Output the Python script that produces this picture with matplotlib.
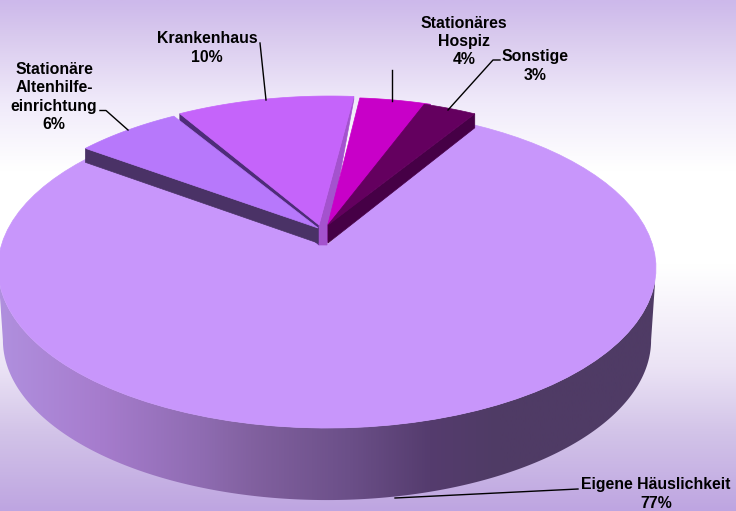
# coding: utf-8
import numpy as np
import matplotlib
matplotlib.use("Agg")
import matplotlib.pyplot as plt
from matplotlib.patches import Polygon
from matplotlib.colors import LinearSegmentedColormap

# slices, counter clockwise from the right edge of the big one
labels = ["Sonstige", "Stationäres\nHospiz", "Krankenhaus", "Stationäre\nAltenhilfe-\neinrichtung", "Eigene Häuslichkeit"]
values = [3, 4, 10, 6, 77]
top_colors = ["#64005F", "#C800C8", "#C564FA", "#B778FB", "#C896FB"]

# explode of each slice in pixels, the tip and the rim move a bit differently
tip_shift = [(1, -20), (1, -21), (-8, -20), (-9, -17), (0, 0)]
rim_shift = [(3, -10.5), (9, -10.5), (3, -12), (-3, -9.5), (0, 0)]

label_pos = [(535, 66), (464, 41.5), (207, 48), (54, 97), (656, 494)]

start_angle = 60
cx, cy = 327, 245
k = 0.144
ra = 325.6
rb = 156.7


def rim(angle):
    # perspective view of a point on the pie circle
    t = np.radians(angle)
    x, y = np.cos(t), np.sin(t)
    w = 1 + k * y
    return cx + ra * x / w, cy - rb * y / w


edges = start_angle + np.cumsum([0] + values) * 3.6

fig = plt.figure(figsize=(7.36, 5.11), dpi=100)
ax = fig.add_axes([0, 0, 1, 1])

# background
bg = LinearSegmentedColormap.from_list("bg", [(0, "#CDB9EB"), (0.07, "#D9CAEE"), (0.2, "#F0EAFA"), (0.33, "#FFFFFF"),
                                              (0.52, "#FFFFFF"), (0.72, "#EBE3F5"), (0.85, "#D2C3E8"), (1, "#BEA5E1")])
ax.imshow(np.linspace(0, 1, 256).reshape(-1, 1), cmap=bg, extent=(0, 736, 511, 0), aspect="auto", zorder=0)

# side of the big slice, between the two points where the outline turns
turn = np.degrees(np.arcsin(k))
aa = np.linspace(180 + turn, 360 - turn, 300)
px, py = rim(aa)
bx = cx + (px - cx) * 0.985
by = py + 72
wall = Polygon(np.r_[np.c_[px, py], np.c_[bx, by][::-1]], closed=True, transform=ax.transData, fc="none", ec="none")
ax.add_patch(wall)
wall_cm = LinearSegmentedColormap.from_list("wall", [(0, "#B08FDE"), (100 / 655, "#A67CCD"), (200 / 655, "#8F6CB2"),
                                                     (250 / 655, "#8261A0"), (350 / 655, "#6B4F88"), (430 / 655, "#553C6E"),
                                                     (500 / 655, "#4F3B65"), (1, "#4F3B65")])
im = ax.imshow(np.linspace(0, 1, 512).reshape(1, -1), cmap=wall_cm, extent=(0, 655, 511, 0), aspect="auto", zorder=1)
im.set_clip_path(wall)


def top_points(i):
    aa = np.linspace(edges[i], edges[i + 1], 80)
    x, y = rim(aa)
    x = x + rim_shift[i][0]
    y = y + rim_shift[i][1]
    tip = (cx + tip_shift[i][0], cy + tip_shift[i][1])
    return np.r_[[tip], np.c_[x, y]]


def draw_top(i, z):
    ax.add_patch(Polygon(top_points(i), closed=True, fc=top_colors[i], ec=top_colors[i], lw=0.5, zorder=z))


def draw_side(i, angle, color, h_rim, h_tip, z, dx=0):
    x, y = rim(angle)
    x = x + rim_shift[i][0]
    y = y + rim_shift[i][1]
    tx = cx + tip_shift[i][0]
    ty = cy + tip_shift[i][1]
    pts = [(x, y), (tx, ty), (tx, ty + h_tip), (tx + dx, ty + h_tip), (x, y + h_rim)]
    ax.add_patch(Polygon(pts, closed=True, fc=color, ec=color, lw=0.5, zorder=z))


draw_top(4, 2)

draw_side(2, edges[3], "#4E2C78", 14, 20, 3)
draw_side(2, edges[2], "#A452CE", 3, 20, 3, dx=8)
draw_top(2, 4)
draw_side(3, edges[4], "#4A3266", 14, 15, 5)
draw_top(3, 6)
draw_side(1, edges[1], "#96009B", 14, 18, 7)
draw_side(0, edges[0], "#460046", 14, 18, 7)
draw_top(1, 8)
draw_top(0, 9)

# leader lines
leader_x = [[260, 266], [391.5, 391.5], [500, 493, 448], [100, 106, 128], [578, 395]]
leader_y = [[43, 100], [70, 101], [60, 60, 110], [110.5, 110.5, 130], [489, 498]]
for lx, ly in zip(leader_x, leader_y):
    ax.plot(lx, ly, color="black", lw=1, zorder=10)

for lab, v, pos in zip(labels, values, label_pos):
    ax.text(pos[0], pos[1], "%s\n%d%%" % (lab, v), ha="center", va="center", family="Liberation Sans",
            weight="bold", fontsize=11.4, linespacing=1.28, color="black", zorder=11)

ax.set_xlim(0, 736)
ax.set_ylim(511, 0)
ax.axis("off")
fig.savefig("out.png", dpi=100)
